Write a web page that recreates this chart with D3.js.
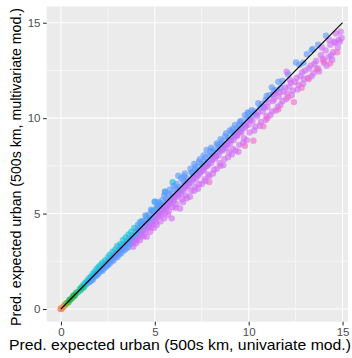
<!DOCTYPE html>
<html>
<head>
<meta charset="utf-8">
<script src="https://cdn.jsdelivr.net/npm/d3@7"></script>
<style>
  body { margin: 0; background: #fff; }
  svg { display: block; font-family: "Liberation Sans", Arial, sans-serif; }
  .tick text { fill: #4D4D4D; font-size: 11.5px; }
  .tick line { stroke: #333; stroke-width: 1.07; }
</style>
</head>
<body>
<div id="chart"></div>
<script>
// Tick values
var xTicks = [0, 5, 10, 15];
var yTicks = [0, 5, 10, 15];
var minorTicks = [2.5, 7.5, 12.5];

// Points, grouped by colour [x, y]
var orangePts = [[0, 0], [0.03, 0.01], [0.06, 0.05], [-0.02, 0.02], [0.1, 0.09]];
var olivePts = [[0.15, 0.14], [0.2, 0.22], [0.25, 0.23]];
var greenPts = [[0.3, 0.3], [0.4, 0.36], [0.45, 0.47], [0.5, 0.5], [0.6, 0.58], [0.65, 0.68], [0.7, 0.7], [0.75, 0.72]];
var tealPts = [[0.8, 0.85], [0.9, 0.88], [1.0, 1.05], [1.05, 0.98], [1.1, 1.15], [1.2, 1.12]];
var cyanPts = [
  [1.2, 1.28], [1.25, 1.2], [1.3, 1.38], [1.35, 1.3], [1.4, 1.5], [1.45, 1.4], [1.5, 1.62], [1.55, 1.5],
  [1.6, 1.7], [1.65, 1.6], [1.7, 1.85], [1.75, 1.7], [1.8, 1.95], [1.85, 1.82], [1.9, 2.1], [1.95, 1.9],
  [2.0, 2.2], [2.05, 2.02], [2.1, 2.3], [2.15, 2.1], [2.2, 2.42], [2.3, 2.28], [2.35, 2.55], [2.4, 2.4],
  [2.5, 2.7], [2.55, 2.52], [2.6, 2.85], [2.7, 2.68], [2.75, 3.0], [2.8, 2.82], [2.9, 3.12], [2.95, 2.92],
  [3.0, 3.3], [3.1, 3.08], [3.15, 3.4], [3.2, 3.25], [3.3, 3.6], [3.35, 3.4], [3.45, 3.75], [3.5, 3.52],
  [3.6, 3.9], [3.65, 3.68], [3.75, 4.05], [3.8, 3.85], [3.9, 4.25], [4.0, 4.05], [4.1, 4.4], [4.2, 4.22],
  [4.3, 4.6], [4.45, 4.5], [4.55, 4.85], [4.7, 4.75], [4.85, 5.15], [5.0, 5.62], [5.1, 5.3], [5.3, 5.55],
  [5.55, 6.14], [5.95, 6.64], [2.45, 2.3], [3.05, 2.95], [3.55, 3.45]
];
var bluePts = [
  [1.5, 1.4], [1.6, 1.48], [1.7, 1.55], [1.8, 1.7], [1.9, 1.75], [2.0, 1.85], [2.1, 1.98], [2.2, 2.0],
  [2.3, 2.12], [2.4, 2.22], [2.5, 2.3], [2.6, 2.38], [2.7, 2.5], [2.8, 2.55], [2.9, 2.7], [3.0, 2.72],
  [3.1, 2.85], [3.2, 2.92], [3.3, 3.05], [3.4, 3.1], [3.5, 3.2], [3.6, 3.25], [3.7, 3.4], [3.8, 3.45],
  [3.9, 3.6], [4.0, 3.62], [3.25, 3.2], [3.65, 3.6], [2.85, 2.8],
  [4.2, 4.55], [4.5, 4.9], [4.8, 5.2], [5.0, 5.62], [5.2, 5.6], [5.5, 5.95], [5.54, 6.14], [5.8, 6.25],
  [6.0, 6.45], [6.25, 6.98], [6.4, 6.85], [6.6, 7.1], [6.9, 7.35], [7.1, 7.6], [7.4, 7.85], [7.6, 8.05],
  [7.76, 8.33], [8.0, 8.45], [8.3, 8.68], [8.5, 8.9], [8.8, 9.2], [9.0, 9.35], [9.27, 9.64], [9.54, 9.81], [9.8, 10.15],
  [4.1, 4.25], [4.3, 4.45], [4.6, 4.7], [4.9, 5.1], [5.1, 5.3], [5.3, 5.4], [5.6, 5.8], [5.9, 6.05],
  [6.1, 6.3], [6.3, 6.4], [6.5, 6.7], [6.7, 6.85], [7.0, 7.15], [7.2, 7.45], [7.5, 7.6], [7.7, 7.95],
  [7.9, 8.05], [8.1, 8.35], [8.4, 8.5], [8.6, 8.8], [8.9, 9.0], [9.1, 9.3], [9.4, 9.5], [9.6, 9.85], [9.9, 10.0],
  [4.0, 3.75], [4.25, 3.95], [4.4, 4.15], [4.65, 4.35], [4.85, 4.6], [5.05, 4.8], [5.25, 5.0], [5.45, 5.2],
  [5.65, 5.4], [5.85, 5.6], [6.05, 5.8], [6.25, 6.0], [6.45, 6.2], [6.65, 6.45], [6.85, 6.6], [7.05, 6.8],
  [7.25, 7.05], [7.45, 7.2], [7.65, 7.4], [7.85, 7.6], [8.05, 7.85], [8.25, 8.0], [8.45, 8.25], [8.65, 8.4],
  [8.85, 8.65], [9.05, 8.85], [9.25, 9.05], [9.45, 9.25], [9.65, 9.45], [9.85, 9.7],
  [2.25, 2.18], [2.45, 2.38], [2.65, 2.6], [2.95, 2.88], [3.15, 3.1], [3.45, 3.38], [3.75, 3.7], [3.95, 3.82],
  [4.05, 4.1], [4.15, 3.9], [4.35, 4.6], [4.45, 4.3], [4.55, 4.45], [4.7, 4.95], [4.75, 4.55], [4.95, 4.85],
  [5.15, 5.45], [5.2, 5.1], [5.35, 5.25], [5.4, 5.7], [5.5, 5.45], [5.7, 5.65], [5.75, 6.0], [5.95, 5.85],
  [6.15, 6.55], [6.2, 6.15], [6.35, 6.25], [6.55, 6.95], [6.6, 6.55], [6.75, 6.7], [6.95, 7.15], [7.05, 7.0],
  [7.15, 7.35], [7.3, 7.25], [7.35, 7.7], [7.55, 7.45], [7.6, 7.75], [7.8, 7.7], [7.95, 8.25], [8.05, 8.0],
  [8.2, 8.2], [8.35, 8.6], [8.45, 8.4], [8.55, 8.65], [8.7, 8.6], [8.75, 9.05], [8.95, 8.85], [9.15, 9.45],
  [9.2, 9.15], [9.35, 9.3], [9.5, 9.7], [9.55, 9.45], [9.75, 9.65], [9.95, 10.3], [10.05, 9.95], [10.2, 10.15],
  [10.6, 10.55], [10.9, 10.95], [11.35, 11.45], [11.7, 11.6],
  [10.0, 10.25], [10.16, 10.42], [10.3, 10.35], [10.51, 10.78], [10.7, 10.75], [10.96, 11.16], [11.1, 11.2],
  [11.23, 11.61], [11.49, 11.47], [11.58, 11.91], [11.8, 11.95], [12.1, 12.3], [12.52, 12.92], [12.7, 12.8],
  [12.91, 12.9], [13.1, 13.35], [13.36, 13.57], [13.41, 13.62], [13.7, 13.85], [14.12, 14.32],
  [10.4, 10.2], [10.8, 10.6], [11.3, 11.25]
];
var violetPts = [
  [3.85, 3.26], [3.9, 3.5], [4.0, 3.45], [4.1, 3.7], [4.2, 3.6], [4.3, 3.85], [4.4, 3.8], [4.5, 4.05],
  [4.57, 3.79], [4.65, 4.25], [4.75, 4.05], [4.85, 4.45], [4.95, 4.25],
  [5.0, 4.7], [5.2, 4.85], [5.4, 5.1], [5.6, 5.25], [5.8, 5.5], [6.0, 5.65], [6.2, 5.9], [6.4, 6.05],
  [6.6, 6.3], [6.8, 6.45], [7.0, 6.7], [7.2, 6.85], [7.4, 7.1], [7.6, 7.25], [7.8, 7.5], [8.0, 7.65],
  [8.2, 7.9], [8.4, 8.05], [8.6, 8.3], [8.8, 8.45], [9.0, 8.7], [9.2, 8.85], [9.4, 9.1], [9.6, 9.25],
  [9.8, 9.5], [10.0, 9.65],
  [5.1, 4.4], [5.3, 4.6], [5.5, 4.75], [5.7, 4.95], [5.9, 4.75], [6.1, 5.3], [6.34, 5.27], [6.5, 5.6],
  [6.7, 5.8], [6.87, 5.88], [7.1, 6.2], [7.3, 6.3], [7.5, 6.55], [7.7, 6.7], [7.9, 6.95], [8.1, 7.1],
  [8.3, 7.35], [8.5, 7.5], [8.65, 7.54], [8.9, 7.95], [9.1, 8.1], [9.3, 8.3], [9.45, 8.24], [9.7, 8.7], [9.9, 8.85],
  [4.35, 4.1], [4.6, 4.45], [4.8, 4.3], [5.05, 4.55], [5.15, 4.95], [5.35, 4.9], [5.45, 5.3], [5.55, 5.05],
  [5.65, 5.45], [5.75, 5.15], [5.85, 5.7], [5.95, 5.35], [6.05, 5.9], [6.15, 5.5], [6.3, 6.1], [6.45, 5.75],
  [6.55, 6.35], [6.65, 5.95], [6.75, 6.6], [6.95, 6.2], [7.05, 6.85], [7.15, 6.4], [7.3, 7.0], [7.35, 6.55],
  [7.55, 7.3], [7.65, 6.8], [7.75, 7.5], [7.85, 7.05], [8.05, 7.8], [8.15, 7.3], [8.25, 8.0], [8.45, 7.65],
  [8.55, 8.35], [8.7, 7.85], [8.85, 8.6], [8.95, 8.2], [9.05, 8.85], [9.15, 8.4], [9.35, 9.05], [9.5, 8.6],
  [9.55, 9.3], [9.75, 8.95], [9.85, 9.6], [10.05, 9.25], [10.1, 9.9], [10.35, 9.55], [10.5, 10.3], [10.65, 9.8],
  [10.85, 10.55], [10.95, 10.1], [11.05, 10.85], [11.25, 10.35], [11.35, 11.0], [11.55, 10.6], [11.65, 11.35],
  [11.8, 10.9], [11.95, 11.6], [12.05, 11.3], [12.25, 11.85], [12.35, 11.45], [12.55, 12.1], [12.65, 11.75],
  [12.85, 12.4], [12.95, 12.05], [13.2, 12.6], [13.35, 12.2], [13.5, 12.85], [13.75, 12.45], [13.95, 13.1],
  [14.15, 12.75], [14.4, 13.3], [14.6, 13.95], [14.8, 14.1], [14.45, 13.05],
  [10.2, 9.85], [10.3, 9.35], [10.45, 10.1], [10.6, 9.6], [10.75, 10.35], [10.9, 9.9], [11.0, 10.6],
  [11.15, 10.15], [11.3, 10.9], [11.45, 10.4], [11.6, 11.15], [11.7, 10.7], [11.85, 11.4], [12.0, 11.0],
  [12.02, 12.43], [12.15, 11.65], [12.3, 11.2], [12.45, 11.9], [12.6, 11.5], [12.75, 12.2], [12.9, 11.8],
  [13.0, 12.5], [13.15, 12.1], [13.3, 12.75], [13.45, 12.35], [13.6, 13.0], [13.7, 12.6], [13.85, 13.3],
  [14.0, 12.9], [14.1, 13.55], [14.25, 13.2], [14.35, 13.85], [14.5, 13.45], [14.56, 14.0], [14.65, 14.44],
  [14.75, 13.7], [14.86, 14.0], [14.9, 14.53], [14.95, 14.2], [14.3, 14.1], [13.9, 13.7], [12.2, 12.0], [11.4, 11.3]
];
var pinkPts = [
  [14.72, 13.45], [14.33, 12.87], [13.62, 12.56], [12.82, 11.59], [12.41, 10.84], [11.58, 10.46],
  [10.99, 9.99], [10.78, 9.57], [10.25, 8.82], [9.8, 8.55], [7.9, 6.65], [13.2, 12.05], [12.1, 11.1], [14.0, 13.0]
];

var groups = [
  { pts: cyanPts, color: "#14C2D8" },
  { pts: bluePts, color: "#5C98FF" },
  { pts: violetPts, color: "#D36CF5" },
  { pts: pinkPts, color: "#F26ACB" },
  { pts: tealPts, color: "#14BE92" },
  { pts: greenPts, color: "#22B24A" },
  { pts: olivePts, color: "#8CB425" },
  { pts: orangePts, color: "#F2895F" }
];

var svgWidth = 352;
var svgHeight = 358;

var svg = d3.select("#chart")
    .append("svg")
    .attr("width", svgWidth)
    .attr("height", svgHeight);

// Panel edges
var panel = { left: 46.7, right: 348, top: 6.5, bottom: 321.7 };

var xScale = d3.scaleLinear()
    .domain([-0.76, 15.29])
    .range([panel.left, panel.right]);

var yScale = d3.scaleLinear()
    .domain([-0.665, 15.85])
    .range([panel.bottom, panel.top]);

// Panel background
svg.append("rect")
    .attr("x", panel.left)
    .attr("y", panel.top)
    .attr("width", panel.right - panel.left)
    .attr("height", panel.bottom - panel.top)
    .attr("fill", "#EBEBEB");

// Grid lines
var grid = svg.append("g");
minorTicks.forEach(function(v) {
  grid.append("line")
    .attr("x1", xScale(v)).attr("x2", xScale(v))
    .attr("y1", panel.top).attr("y2", panel.bottom)
    .attr("stroke", "#fff").attr("stroke-width", 0.53);
  grid.append("line")
    .attr("y1", yScale(v)).attr("y2", yScale(v))
    .attr("x1", panel.left).attr("x2", panel.right)
    .attr("stroke", "#fff").attr("stroke-width", 0.53);
});
xTicks.forEach(function(v) {
  grid.append("line")
    .attr("x1", xScale(v)).attr("x2", xScale(v))
    .attr("y1", panel.top).attr("y2", panel.bottom)
    .attr("stroke", "#fff").attr("stroke-width", 1.07);
});
yTicks.forEach(function(v) {
  grid.append("line")
    .attr("y1", yScale(v)).attr("y2", yScale(v))
    .attr("x1", panel.left).attr("x2", panel.right)
    .attr("stroke", "#fff").attr("stroke-width", 1.07);
});

// Points
var pointsGroup = svg.append("g");
groups.forEach(function(g) {
  pointsGroup.append("g")
    .selectAll("circle")
    .data(g.pts)
    .enter()
    .append("circle")
    .attr("cx", d => xScale(d[0]))
    .attr("cy", d => yScale(d[1]))
    .attr("r", 3.2)
    .attr("fill", g.color)
    .attr("opacity", 0.62);
});

// 1:1 line
svg.append("line")
    .attr("x1", xScale(0)).attr("y1", yScale(0))
    .attr("x2", xScale(15)).attr("y2", yScale(15))
    .attr("stroke", "#000")
    .attr("stroke-width", 1.1);

// Axes
var bottomAxis = d3.axisBottom(xScale).tickValues(xTicks).tickSize(3.7).tickPadding(2.5);
var leftAxis = d3.axisLeft(yScale).tickValues(yTicks).tickSize(3.7).tickPadding(2.5);

svg.append("g")
    .attr("transform", `translate(0, ${panel.bottom})`)
    .call(bottomAxis)
    .call(g => g.select(".domain").remove());

svg.append("g")
    .attr("transform", `translate(${panel.left}, 0)`)
    .call(leftAxis)
    .call(g => g.select(".domain").remove());

svg.selectAll(".tick text").attr("font-family", null).attr("font-size", null);

// Axis titles (the reference is a little wider than tall, so stretch to fit)
svg.append("text")
    .attr("x", 180)
    .attr("y", 350)
    .attr("text-anchor", "middle")
    .attr("font-size", "14.3px")
    .attr("fill", "#000")
    .attr("textLength", 342)
    .attr("lengthAdjust", "spacingAndGlyphs")
    .text("Pred. expected urban (500s km, univariate mod.)");

svg.append("text")
    .attr("transform", `translate(20.5, 167) rotate(-90)`)
    .attr("text-anchor", "middle")
    .attr("font-size", "14.3px")
    .attr("fill", "#000")
    .attr("textLength", 318)
    .attr("lengthAdjust", "spacingAndGlyphs")
    .text("Pred. expected urban (500s km, multivariate mod.)");
</script>
</body>
</html>
